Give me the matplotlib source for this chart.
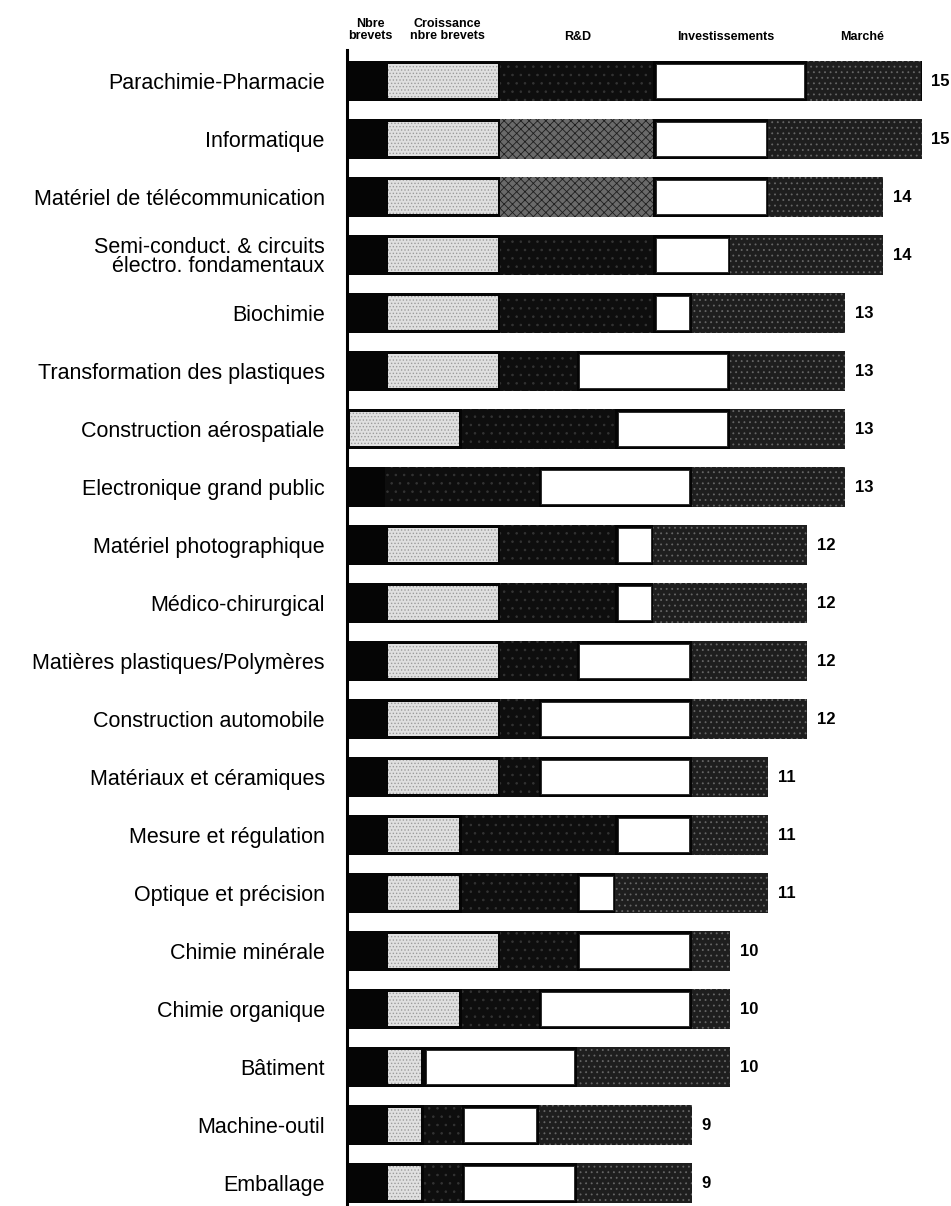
import numpy as np
import matplotlib
matplotlib.use("Agg")
import matplotlib.pyplot as plt

plt.rcParams['font.family'] = ['Liberation Sans', 'DejaVu Sans']
plt.rcParams['hatch.linewidth'] = 0.6

categories = [
    "Parachimie-Pharmacie", "Informatique", "Matériel de télécommunication",
    "Semi-conduct. & circuits\nélectro. fondamentaux", "Biochimie",
    "Transformation des plastiques", "Construction aérospatiale",
    "Electronique grand public", "Matériel photographique", "Médico-chirurgical",
    "Matières plastiques/Polymères", "Construction automobile",
    "Matériaux et céramiques", "Mesure et régulation", "Optique et précision",
    "Chimie minérale", "Chimie organique", "Bâtiment", "Machine-outil", "Emballage",
]
series_names = ["Nbre\nbrevets", "Croissance\nnbre brevets", "R&D", "Investissements", "Marché"]
nbre_brevets = [1, 1, 1, 1, 1, 1, 0, 1, 1, 1, 1, 1, 1, 1, 1, 1, 1, 1, 1, 1]
croissance   = [3, 3, 3, 3, 3, 3, 3, 0, 3, 3, 3, 3, 3, 2, 2, 3, 2, 1, 1, 1]
r_and_d      = [4, 4, 4, 4, 4, 2, 4, 4, 3, 3, 2, 1, 1, 4, 3, 2, 2, 0, 1, 1]
investiss    = [4, 3, 3, 2, 1, 4, 3, 4, 1, 1, 3, 4, 4, 2, 1, 3, 4, 4, 2, 3]
marche       = [3, 4, 3, 4, 4, 3, 3, 4, 4, 4, 3, 3, 2, 2, 4, 1, 1, 4, 4, 3]
totals       = [15, 15, 14, 14, 13, 13, 13, 13, 12, 12, 12, 12, 11, 11, 11, 10, 10, 10, 9, 9]
crosshatch_rows = [1, 2]  # rows whose R&D segment is drawn with a cross-hatch screen

W, H = 951, 1206
fig = plt.figure(figsize=(W / 100, H / 100), dpi=100)
unit = 38.3
x0_px, top_px, row0_px, step_px = 347, 50, 81, 58
ax = fig.add_axes([x0_px / W, 0, (W - x0_px) / W, (H - top_px) / H])
ax.set_xlim(0, (W - x0_px) / unit)
ax.set_ylim((H - row0_px) / step_px, (top_px - row0_px) / step_px)

y = np.arange(len(categories))
segs = np.array([nbre_brevets, croissance, r_and_d, investiss, marche], dtype=float)
lefts = np.vstack([np.zeros(len(categories)), np.cumsum(segs, axis=0)[:-1]])
sums = segs.sum(axis=0)

bh, ih = 0.68, 0.6
ins = 2.5 / unit

# black strip behind everything (Nbre brevets + borders)
ax.barh(y, sums, left=0, height=bh, color='#050505', lw=0)
# R&D: very dark speckled
ax.barh(y, segs[2], left=lefts[2], height=bh, color='#0e0e0e', hatch='..',
        edgecolor='#343434', lw=0)
# Marché: dark speckled
ax.barh(y, segs[4], left=lefts[4], height=bh, color='#1e1e1e', hatch='...',
        edgecolor='#666666', lw=0)
# cross-hatched R&D for the two rows
ch = np.array(crosshatch_rows)
ax.barh(y[ch], segs[2][ch], left=lefts[2][ch], height=bh, color='#6a6a6a',
        hatch='xxxx', edgecolor='#1e1e1e', lw=0)
# Croissance: light dotted boxes (inset)
m = segs[1] > 0
ax.barh(y[m], segs[1][m] - 2 * ins, left=lefts[1][m] + ins, height=ih,
        color='#e0e0e0', hatch='.....', edgecolor='#9c9c9c', lw=0)
# Investissements: white boxes (inset)
m = segs[3] > 0
ax.barh(y[m], segs[3][m] - 2 * ins, left=lefts[3][m] + ins, height=ih,
        color='white', edgecolor='#222222', lw=0.6)

for i, t in enumerate(totals):
    ax.text(sums[i] + 10 / unit, y[i], str(t), va='center', ha='left',
            fontsize=12, fontweight='bold')

ax.set_yticks(y)
ax.set_yticklabels(categories, fontsize=15.5, linespacing=0.92)
ax.tick_params(axis='y', length=0, pad=16)
ax.set_xticks([])
for s in ['top', 'right', 'bottom']:
    ax.spines[s].set_visible(False)
ax.spines['left'].set_linewidth(2.2)
ax.spines['left'].set_color('black')

hdr = [(370, 30, series_names[0]), (447, 30, series_names[1]),
       (578, 37, series_names[2]), (726, 37, series_names[3]),
       (862, 37, series_names[4])]
for hx, hy, txt in hdr:
    fig.text(hx / W, 1 - hy / H, txt, ha='center', va='center', fontsize=9,
             fontweight='bold', linespacing=0.95)

fig.savefig("out.png", dpi=100)
